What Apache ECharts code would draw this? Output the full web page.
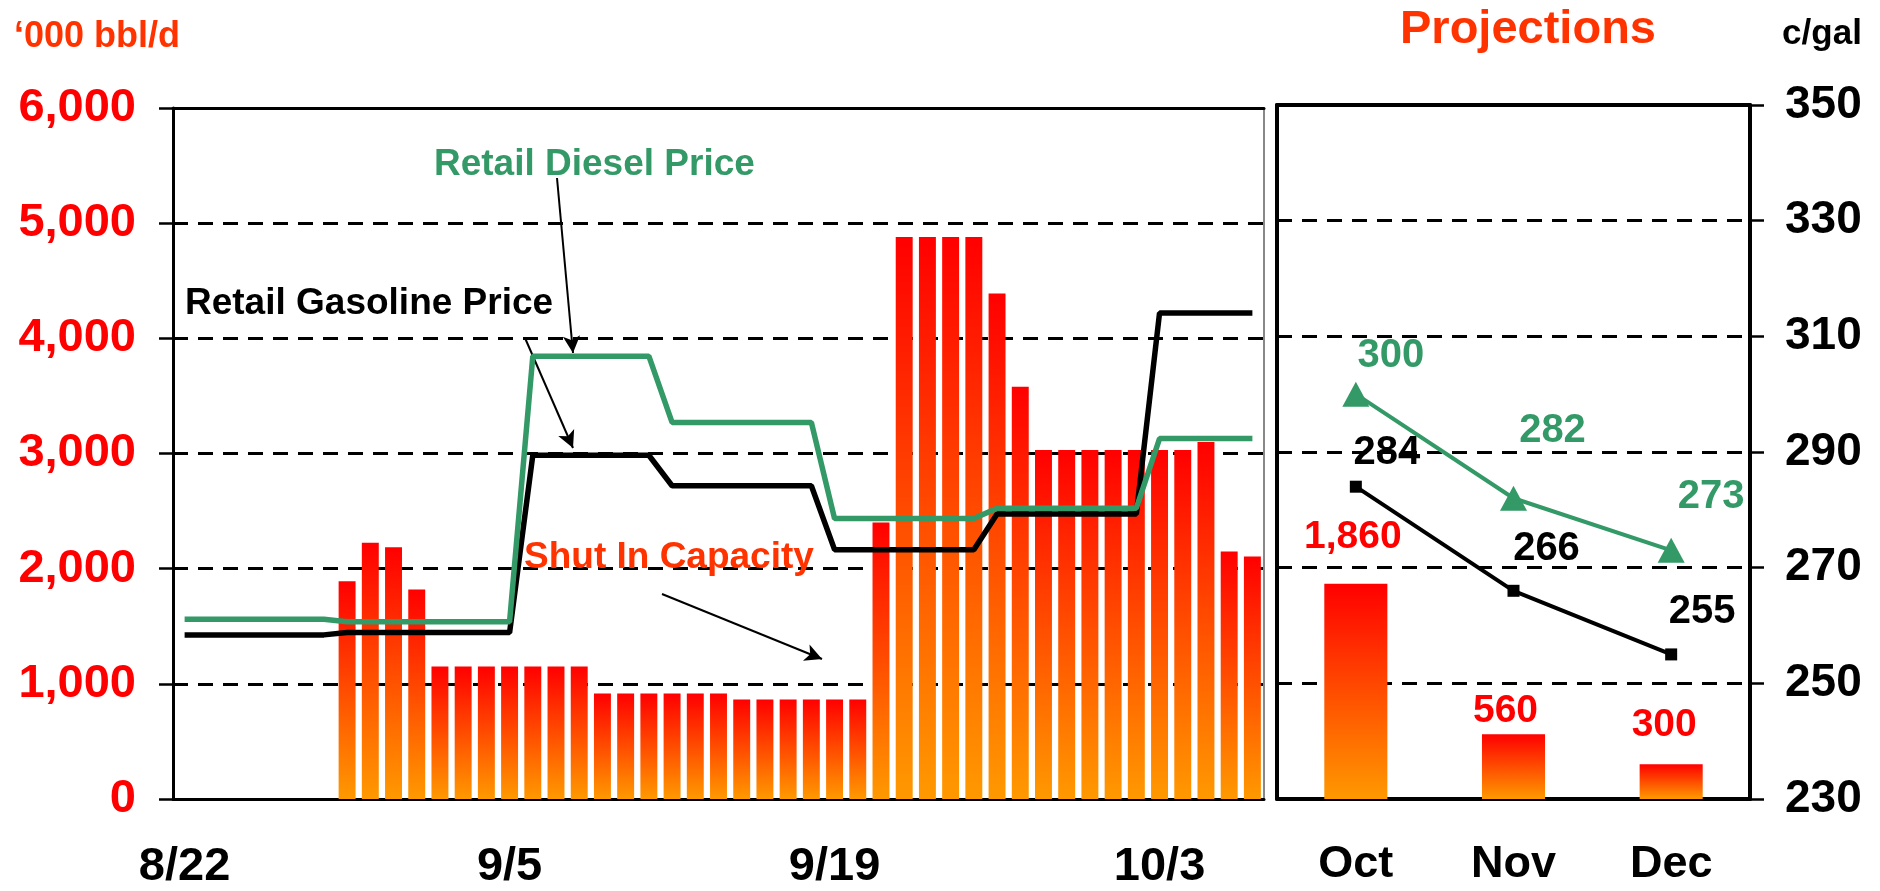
<!DOCTYPE html>
<html>
<head>
<meta charset="utf-8">
<title>Shut In Capacity and Retail Prices</title>
<script src="https://cdn.jsdelivr.net/npm/echarts@6.0.0/dist/echarts.min.js"></script>
<style>
html, body { margin: 0; padding: 0; background: #fff; }
#main { width: 1880px; height: 891px; }
</style>
</head>
<body>
<div id="main"></div>
<script>
// daily categories 8/22 .. 10/7
var days = ['8/22','8/23','8/24','8/25','8/26','8/27','8/28','8/29','8/30','8/31',
    '9/1','9/2','9/3','9/4','9/5','9/6','9/7','9/8','9/9','9/10',
    '9/11','9/12','9/13','9/14','9/15','9/16','9/17','9/18','9/19','9/20',
    '9/21','9/22','9/23','9/24','9/25','9/26','9/27','9/28','9/29','9/30',
    '10/1','10/2','10/3','10/4','10/5','10/6','10/7'];
// shut in capacity, '000 bbl/d
var shutIn = [null,null,null,null,null,null,null,1890,2225,2185,
    1820,1150,1150,1150,1150,1150,1150,1150,915,915,
    915,915,915,915,865,865,865,865,865,865,
    2400,4880,4880,4880,4880,4390,3580,3030,3030,3030,
    3030,3030,3030,3030,3100,2150,2105];
// retail prices, c/gal
var gasoline = [258.5,258.5,258.5,258.5,258.5,258.5,258.5,258.9,258.9,258.9,
    258.9,258.9,258.9,258.9,258.9,289.7,289.7,289.7,289.7,289.7,
    289.7,284.4,284.4,284.4,284.4,284.4,284.4,284.4,273.3,273.3,
    273.3,273.3,273.3,273.3,273.3,279.5,279.5,279.5,279.5,279.5,
    279.5,279.5,314.4,314.4,314.4,314.4,314.4];
var diesel = [261.2,261.2,261.2,261.2,261.2,261.2,261.2,260.8,260.8,260.8,
    260.8,260.8,260.8,260.8,260.8,306.9,306.9,306.9,306.9,306.9,
    306.9,295.4,295.4,295.4,295.4,295.4,295.4,295.4,278.7,278.7,
    278.7,278.7,278.7,278.7,278.7,280.5,280.5,280.5,280.5,280.5,
    280.5,280.5,292.6,292.6,292.6,292.6,292.6];
// projections
var months = ['Oct', 'Nov', 'Dec'];
var projShutIn = [1860, 560, 300];
var projGasoline = [284, 266, 255];
var projDiesel = [300, 282, 273];
var priceTicks = [230, 250, 270, 290, 310, 330, 350];

// label placement only
var barLabelOffset = [[-3, -22], [-8, 2], [-7, -15]];
var gasLabelOffset = [[31, -34], [33, -42], [31, -42]];
var dieselLabelOffset = [[35, -38], [39, -67], [40, -53]];

var FONT = '"Liberation Sans", Arial, sans-serif';
var GREEN = '#339966';
var ORANGE = '#FF3300';

function barFill() {
    return new echarts.graphic.LinearGradient(0, 0, 0, 1, [
        {offset: 0, color: '#FF0000'},
        {offset: 1, color: '#FF9900'}
    ]);
}
function fmt(v) {
    return String(v).replace(/\B(?=(\d{3})+(?!\d))/g, ',');
}
function withOffsets(values, offsets) {
    var out = [];
    for (var i = 0; i < values.length; i++) {
        out.push({value: values[i], label: {offset: offsets[i]}});
    }
    return out;
}
function txt(x, y, s, size, color, align) {
    return {
        type: 'text', x: x, y: y, z: 100,
        style: {text: s, fill: color, font: 'bold ' + size + 'px ' + FONT,
            align: align || 'left', verticalAlign: 'middle'}
    };
}
var dash = {color: '#000', width: 3, type: [15, 10]};

var myChart = echarts.init(document.getElementById('main'));
var option = {
    backgroundColor: '#fff',
    animation: false,
    grid: [
        {left: 173, top: 108, width: 1091, height: 693},
        {left: 1277, top: 105, width: 473, height: 694}
    ],
    xAxis: [
        {   // daily axis
            type: 'category', gridIndex: 0, data: days, boundaryGap: true,
            axisLine: {lineStyle: {color: '#000', width: 3}},
            axisTick: {interval: 13, length: 14, lineStyle: {color: '#000', width: 2.5}},
            axisLabel: {interval: 13, margin: 45, color: '#000', fontSize: 47,
                fontWeight: 'bold', fontFamily: FONT},
            splitLine: {show: false}
        },
        {   // top border of left panel
            type: 'category', gridIndex: 0, data: days, position: 'top',
            axisLine: {lineStyle: {color: '#000', width: 3}},
            axisTick: {show: false}, axisLabel: {show: false}
        },
        {   // projection months
            type: 'category', gridIndex: 1, data: months, boundaryGap: true,
            axisLine: {lineStyle: {color: '#000', width: 4}},
            axisTick: {length: 14, lineStyle: {color: '#000', width: 2.5}},
            axisLabel: {margin: 43, color: '#000', fontSize: 45,
                fontWeight: 'bold', fontFamily: FONT}
        },
        {
            type: 'category', gridIndex: 1, data: months, position: 'top',
            axisLine: {lineStyle: {color: '#000', width: 4}},
            axisTick: {show: false}, axisLabel: {show: false}
        }
    ],
    yAxis: [
        {   // '000 bbl/d
            type: 'value', gridIndex: 0, min: 0, max: 6000, interval: 1000,
            axisLine: {show: true, lineStyle: {color: '#000', width: 3}},
            axisTick: {show: true, length: 14, lineStyle: {color: '#000', width: 2.5}},
            axisLabel: {margin: 37, color: '#FF0000', fontSize: 47, fontWeight: 'bold',
                fontFamily: FONT, formatter: fmt},
            splitLine: {lineStyle: dash}
        },
        {   // c/gal for the daily lines (hidden scale, thin right border)
            type: 'value', gridIndex: 0, min: 230, max: 350, position: 'right',
            axisLine: {show: true, lineStyle: {color: '#888', width: 2}},
            axisTick: {show: false}, axisLabel: {show: false}, splitLine: {show: false}
        },
        {
            type: 'value', gridIndex: 1, min: 0, max: 6000, interval: 1000,
            axisLine: {show: true, lineStyle: {color: '#000', width: 4}},
            axisTick: {show: false}, axisLabel: {show: false},
            splitLine: {lineStyle: dash}
        },
        {   // c/gal
            type: 'value', gridIndex: 1, min: 230, max: 350, position: 'right',
            axisLine: {show: true, lineStyle: {color: '#000', width: 4}},
            axisTick: {show: true, length: 14, customValues: priceTicks,
                lineStyle: {color: '#000', width: 2.5}},
            axisLabel: {margin: 35, color: '#000', fontSize: 46, fontWeight: 'bold',
                fontFamily: FONT, customValues: priceTicks},
            splitLine: {show: false}
        }
    ],
    series: [
        {
            name: 'Shut In Capacity', type: 'bar', xAxisIndex: 0, yAxisIndex: 0,
            data: shutIn, barCategoryGap: '27%',
            itemStyle: {color: barFill()}
        },
        {
            name: 'Retail Gasoline Price', type: 'line', xAxisIndex: 0, yAxisIndex: 1,
            data: gasoline, showSymbol: false, z: 5,
            lineStyle: {color: '#000', width: 5.5},
            markLine: {
                silent: true, symbol: ['none', 'arrow'], symbolSize: [13, 17],
                label: {show: false},
                lineStyle: {color: '#000', width: 2, type: 'solid'},
                data: [
                    [{x: 557, y: 178}, {x: 573, y: 353}],
                    [{x: 525, y: 338}, {x: 573, y: 448}],
                    [{x: 662, y: 594}, {x: 822, y: 659}]
                ]
            }
        },
        {
            name: 'Retail Diesel Price', type: 'line', xAxisIndex: 0, yAxisIndex: 1,
            data: diesel, showSymbol: false, z: 6,
            lineStyle: {color: GREEN, width: 5.5}
        },
        {
            name: 'Projected Shut In', type: 'bar', xAxisIndex: 2, yAxisIndex: 2,
            data: withOffsets(projShutIn, barLabelOffset), barCategoryGap: '60%',
            itemStyle: {color: barFill()},
            label: {show: true, position: 'top', distance: 5, color: '#FF0000',
                fontSize: 39, fontWeight: 'bold', fontFamily: FONT,
                formatter: function (p) { return fmt(p.value); }}
        },
        {
            name: 'Projected Gasoline', type: 'line', xAxisIndex: 2, yAxisIndex: 3,
            data: withOffsets(projGasoline, gasLabelOffset), z: 5,
            symbol: 'rect', symbolSize: 12,
            itemStyle: {color: '#000'}, lineStyle: {color: '#000', width: 4},
            label: {show: true, position: 'inside', color: '#000', fontSize: 40,
                fontWeight: 'bold', fontFamily: FONT}
        },
        {
            name: 'Projected Diesel', type: 'line', xAxisIndex: 2, yAxisIndex: 3,
            data: withOffsets(projDiesel, dieselLabelOffset), z: 6,
            symbol: 'triangle', symbolSize: [27, 25],
            itemStyle: {color: GREEN}, lineStyle: {color: GREEN, width: 4},
            label: {show: true, position: 'inside', color: GREEN, fontSize: 40,
                fontWeight: 'bold', fontFamily: FONT}
        }
    ],
    graphic: [
        txt(14, 37, '\u2018000 bbl/d', 36, ORANGE),
        txt(1528, 30, 'Projections', 47, ORANGE, 'center'),
        txt(1822, 34, 'c/gal', 35, '#000', 'center'),
        txt(434, 165, 'Retail Diesel Price', 37, GREEN),
        txt(185, 304, 'Retail Gasoline Price', 37, '#000'),
        txt(524, 558, 'Shut In Capacity', 37, ORANGE)
    ]
};
myChart.setOption(option);
</script>
</body>
</html>
